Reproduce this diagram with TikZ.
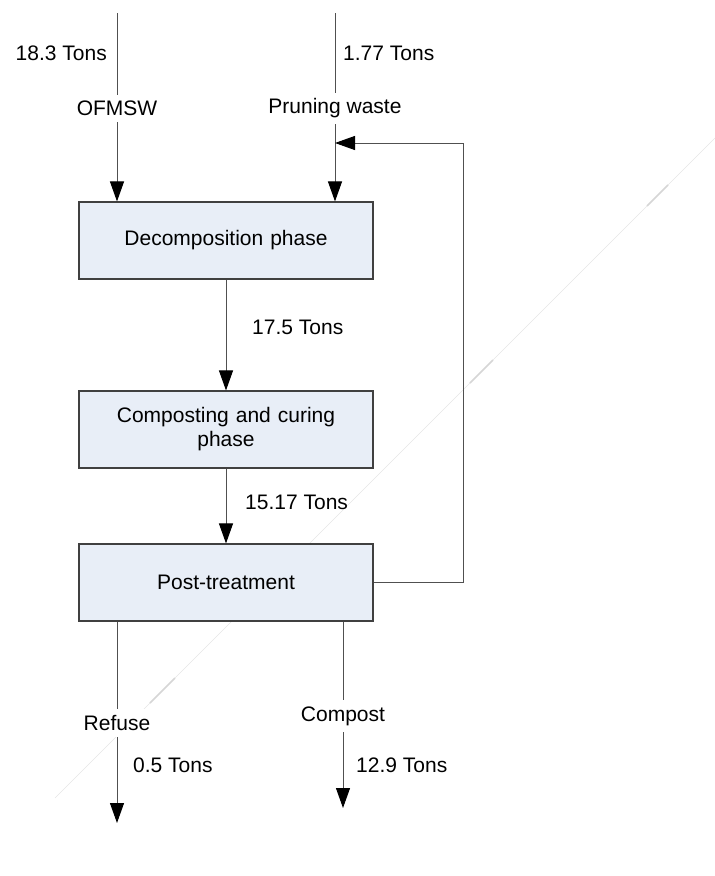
\documentclass[tikz,border=0pt]{standalone}
\usepackage{fontspec}
\setmainfont{Liberation Sans}
\usetikzlibrary{arrows.meta}
\definecolor{boxfill}{RGB}{232,238,247}
\definecolor{boxline}{RGB}{64,64,64}
\definecolor{flowline}{RGB}{80,80,80}
\begin{document}
\begin{tikzpicture}[x=1pt,y=-1pt,
  font=\fontsize{21}{25}\selectfont,
  phase/.style={draw=boxline,line width=1.1pt,fill=boxfill,minimum width=294pt,
                minimum height=77pt,align=center,inner sep=0pt,text width=270pt},
  flow/.style={draw=flowline,line width=1pt,-{Triangle[length=20pt,width=14pt,black]}},
  plain/.style={draw=flowline,line width=1pt},
  lbl/.style={inner sep=0pt},
  cutlbl/.style={fill=white,inner xsep=1pt,inner ysep=6pt},
  haze/.style={draw=black!10,line width=0.5pt},
  hazedash/.style={draw=black!16,line width=1.6pt}]
  \useasboundingbox (0,0) rectangle (715,876);

  % faint diagonal streak across the sheet
  \draw[haze] (55,798) -- (715,138);
  \draw[hazedash] (150,703) -- (175,678);
  \draw[hazedash] (470,383) -- (493,360);
  \draw[hazedash] (647,206) -- (668,185);

  % process stages
  \node[phase] (dec)  at (226,240.5) {Decomposition phase};
  \node[phase] (comp) at (226,429.5) {Composting and curing\\[-1pt]phase};
  \node[phase] (post) at (226,582.5) {Post-treatment};

  % free ends of the input and output streams
  \coordinate (inA)  at (117,13);
  \coordinate (inB)  at (335,13);
  \coordinate (outA) at (117,823);
  \coordinate (outB) at (343,808);
  \coordinate (ret)  at (463,582.5);
  \coordinate (retT) at (463,143);
  \coordinate (join) at (335,143);

  % inputs
  \draw[flow] (inA) -- (inA |- dec.north);
  \draw[flow] (inB) -- (inB |- dec.north);
  % stage to stage
  \draw[flow] (dec.south) -- (comp.north);
  \draw[flow] (comp.south) -- (post.north);
  % recirculation of post-treatment rejects
  \draw[flow] (post.east |- ret) -- (ret) -- (retT) -- (join);
  % outputs
  \draw[flow] (post.south -| outA) -- (outA);
  \draw[flow] (post.south -| outB) -- (outB);

  % stream labels
  \node[lbl,anchor=east] (tA) at (107,53) {18.3 Tons};
  \node[cutlbl] (nA) at (117,108.5) {OFMSW};
  \node[lbl,anchor=west] (tB) at (343,53) {1.77 Tons};
  \node[cutlbl] (nB) at (335,108.5) {Pruning waste};
  \node[lbl,anchor=west] (t1) at (252,327) {17.5 Tons};
  \node[lbl,anchor=west] (t2) at (245,502) {15.17 Tons};
  \node[cutlbl] (nR) at (117,723) {Refuse};
  \node[lbl,anchor=west] (tR) at (133,765) {0.5 Tons};
  \node[cutlbl] (nC) at (343,716) {Compost};
  \node[lbl,anchor=west] (tC) at (356,765) {12.9 Tons};
\end{tikzpicture}
\end{document}
